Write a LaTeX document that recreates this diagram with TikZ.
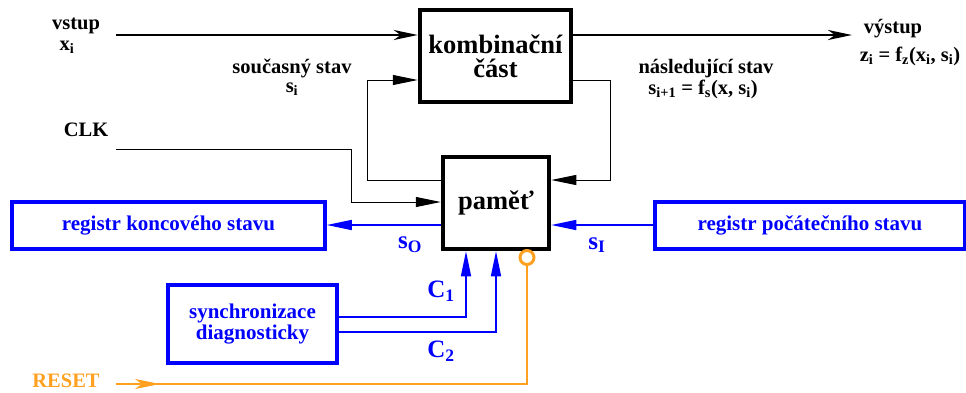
\documentclass[tikz,border=0pt]{standalone}
\usepackage{fontspec}
\setmainfont{Liberation Serif}
\usetikzlibrary{arrows.meta}
\definecolor{bl}{RGB}{0,0,255}
\definecolor{or}{RGB}{255,160,32}
\tikzset{
  lbl/.style={font=\bfseries\fontsize{20.5}{22}\selectfont, inner sep=0pt},
  sub/.style={font=\bfseries\fontsize{25}{27}\selectfont, inner sep=0pt, text=bl},
  bigbox/.style={draw, line width=4.5pt, inner sep=0pt, font=\bfseries\fontsize{26.5}{28}\selectfont, align=center},
  bbox/.style={draw=bl, line width=3.5pt, inner sep=0pt, text=bl, font=\bfseries\fontsize{21}{24}\selectfont, align=center},
  mainline/.style={line width=2.8pt, -{Stealth[length=24pt,width=10pt,inset=7pt]}},
  fb/.style={line width=1pt, -{Triangle[length=25pt,width=10pt]}},
  bline/.style={draw=bl, line width=1.5pt, -{Triangle[length=25pt,width=10pt]}, bl},
  oline/.style={draw=or, line width=1.5pt},
}
\begin{document}
\begin{tikzpicture}[x=1pt,y=-1pt]
\useasboundingbox (0,0) rectangle (966,392);
% boxes
\node[bigbox, minimum width=151pt, minimum height=92pt] (komb) at (495.5,56) {kombinační\\[-4pt]část};
\node[bigbox, minimum width=106pt, minimum height=92pt] (pam) at (496,203) {paměť};
\node[bbox, minimum width=313pt, minimum height=47pt] (rk) at (168.5,225.5) {registr koncového stavu};
\node[bbox, minimum width=310pt, minimum height=47pt] (rp) at (810,225.5) {registr počátečního stavu};
\node[bbox, minimum width=169pt, minimum height=78pt] (sync) at (252.5,324) {synchronizace\\[-3pt]diagnosticky};
% labels
\node[lbl] (vstup) at (76,26) {vstup};
\node[lbl] (xi) at (67,47) {x\textsubscript{i}};
\node[lbl] (soucas) at (292,68) {současný stav};
\node[lbl] (si) at (292,89) {s\textsubscript{i}};
\node[lbl] (clk) at (86,130) {CLK};
\node[lbl] (vystup) at (893,29) {výstup};
\node[lbl] (zi) at (910,56) {z\textsubscript{i} = f\textsubscript{z}(x\textsubscript{i}, s\textsubscript{i})};
\node[lbl] (nasl) at (706,69) {následující stav};
\node[lbl] (sip) at (703,89) {s\textsubscript{i+1} = f\textsubscript{s}(x, s\textsubscript{i})};
\node[sub] (so) at (410,245) {s\textsubscript{O}};
\node[sub] (sI) at (597,245) {s\textsubscript{I}};
\node[sub] (c1) at (441,291) {C\textsubscript{1}};
\node[sub] (c2) at (441,351) {C\textsubscript{2}};
\node[font=\bfseries\fontsize{20.5}{22}\selectfont, inner sep=0pt, text=or] (reset) at (66,381) {RESET};
% coordinates
\coordinate (inS) at (116,35);
\coordinate (outE) at (852,35);
\coordinate (clkS) at (116,149);
\coordinate (rstS) at (116,384);
% main in/out
\draw[mainline] (inS) -- (inS -| komb.west);
\draw[mainline] (komb.east |- inS) -- (outE);
% feedback
\draw[fb] (pam.west |- 0,180) -- (367,180) |- (komb.west |- 0,80);
\draw[fb] (komb.east |- 0,80) -- (610,80) |- (pam.east |- 0,180);
% clock
\draw[fb] (clkS) -- (351,149) |- (pam.west |- 0,202);
% registers
\draw[bline] (pam.west |- 0,225) -- (rk.east |- 0,225);
\draw[bline] (rp.west |- 0,225) -- (pam.east |- 0,225);
% C1, C2
\draw[bline] (sync.east |- 0,317) -- (466,317) -- (466,0 |- pam.south);
\draw[bline] (sync.east |- 0,332) -- (496,332) -- (496,0 |- pam.south);
% reset
\node[draw=or, line width=3pt, circle, minimum size=14pt, inner sep=0pt] (rc) at (527,257.5) {};
\draw[oline] (rc.south) |- (rstS);
\draw[oline, -{Stealth[length=25pt,width=10pt,inset=7pt]}] (rstS) -- ++(44,0);
\end{tikzpicture}
\end{document}
